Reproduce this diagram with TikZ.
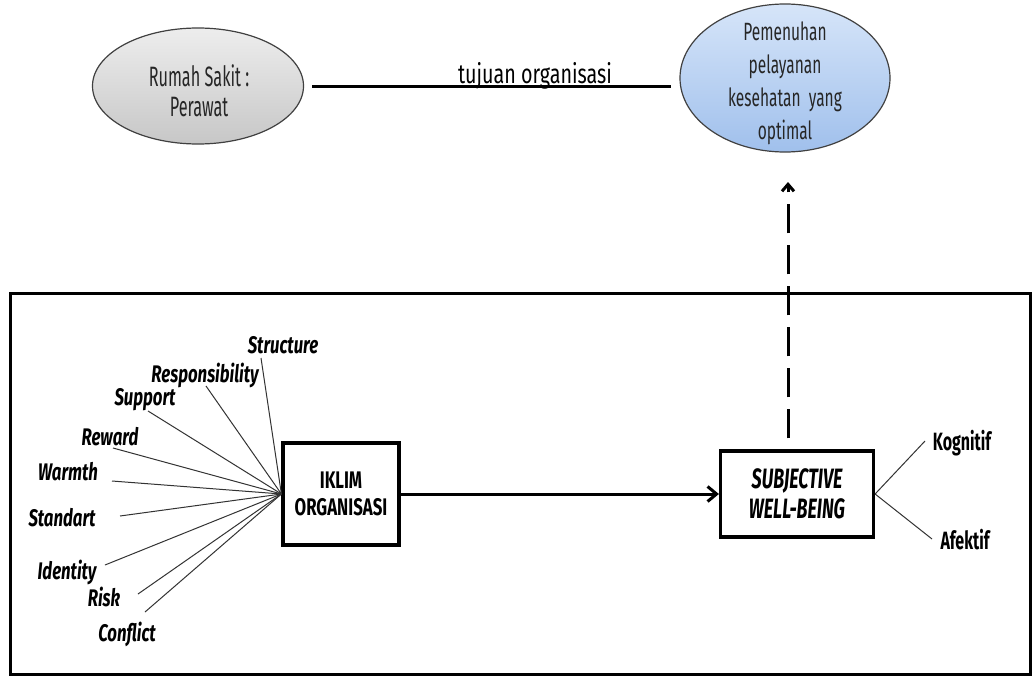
\documentclass[tikz,border=0pt]{standalone}
\usepackage{fontspec}
\setmainfont{Fira Sans}[FakeStretch=0.64]
\newfontfamily\fS{Fira Sans}[FakeStretch=0.58]
\newfontfamily\fM{Fira Sans}[FakeStretch=0.62]
\newfontfamily\fL{Fira Sans}[FakeStretch=0.70]
\newfontfamily\fT{Fira Sans}[FakeStretch=0.73]
\usetikzlibrary{arrows.meta,shapes.geometric}
\begin{document}
\begin{tikzpicture}[x=1pt,y=-1pt,
  lbl/.style={font=\fL\fontsize{24}{26}\selectfont\bfseries\itshape, inner sep=1pt},
  sublbl/.style={font=\fontsize{25}{27}\selectfont\bfseries, inner sep=1pt},
  fan/.style={draw=black!80, line width=1pt},
  box/.style={draw, line width=3.2pt, minimum width=116pt, minimum height=102pt, align=center, inner sep=0pt, fill=white},
  oval/.style={ellipse, draw=black!75, line width=1.2pt, inner sep=0pt}]
\useasboundingbox (0,0) rectangle (1033,677);
\fill[white] (0,0) rectangle (1033,677);
% frame
\node[draw, line width=3.2pt, minimum width=1020pt, minimum height=381pt, inner sep=0pt] (frame) at (520.5,484) {};
% top ellipses
\node[oval, minimum width=211pt, minimum height=116pt, top color=black!7, bottom color=black!22] (rs) at (198,86) {};
\node[align=center, inner sep=0pt, font=\fS\fontsize{28}{30}\selectfont, text=black!85] (rst) at (199,91) {Rumah Sakit :\\Perawat};
\node[oval, minimum width=210pt, minimum height=148pt, top color={rgb,255:red,214;green,229;blue,249}, bottom color={rgb,255:red,160;green,192;blue,236}] (pp) at (785,78) {};
\node[align=center, inner sep=0pt, font=\fM\fontsize{25}{33}\selectfont, text=black!85] (ppt) at (785,83) {Pemenuhan\\pelayanan\\kesehatan\ \ yang\\optimal};
\draw[line width=3pt, shorten >=8pt] (rs.east) ++(8pt,0) coordinate (rsE) -- (rsE -| pp.west);
\node[font=\fT\fontsize{27}{28}\selectfont, anchor=base, inner sep=0pt] (tj) at (535,83) {tujuan organisasi};
% boxes
\node[box, font=\fL\fontsize{24}{27}\selectfont\bfseries] (ik) at (341,494) {IKLIM\\ORGANISASI};
\node[box, minimum width=153pt, minimum height=86pt, font=\fontsize{28}{30}\selectfont\bfseries\itshape] (swb) at (797,494) {SUBJECTIVE\\WELL-BEING};
\draw[line width=3pt, -{Straight Barb[length=9pt,width=15pt,line width=3pt]}] (ik.east) -- (swb.west);
% dashed arrow
\coordinate (tip) at (788,182);
\draw[line width=3pt, dash pattern=on 29pt off 12pt, shorten <=11pt, -{Straight Barb[length=7pt,width=12pt,line width=3pt]}] (swb.north -| tip) -- (tip);
% fan labels
\node[lbl] (st) at (283,345) {Structure};
\node[lbl] (re) at (205,375) {Responsibility};
\node[lbl] (su) at (145,400) {Support};
\node[lbl] (rw) at (110,437) {Reward};
\node[lbl] (wa) at (68,472) {Warmth};
\node[lbl] (sd) at (62,518) {Standart};
\node[lbl] (id) at (67,572) {Identity};
\node[lbl] (ri) at (104,597) {Risk};
\node[lbl] (co) at (127,634) {Conflict};
\coordinate (cst) at (261,358);
\coordinate (cre) at (206,386);
\coordinate (csu) at (148,411);
\coordinate (crw) at (113,448);
\coordinate (cwa) at (112,481);
\coordinate (csd) at (120,516);
\coordinate (cid) at (105,565);
\coordinate (cri) at (138,594);
\coordinate (cco) at (145,612);
\foreach \c in {cst,cre,csu,crw,cwa,csd,cid,cri,cco}
  \draw[fan] (\c) -- (ik.west);
% right labels
\node[sublbl] (kg) at (962,443) {Kognitif};
\node[sublbl] (af) at (965,540) {Afektif};
\coordinate (ckg) at (925,441);
\coordinate (caf) at (932,539);
\draw[fan] (swb.east) -- (ckg);
\draw[fan] (swb.east) -- (caf);
\end{tikzpicture}
\end{document}
